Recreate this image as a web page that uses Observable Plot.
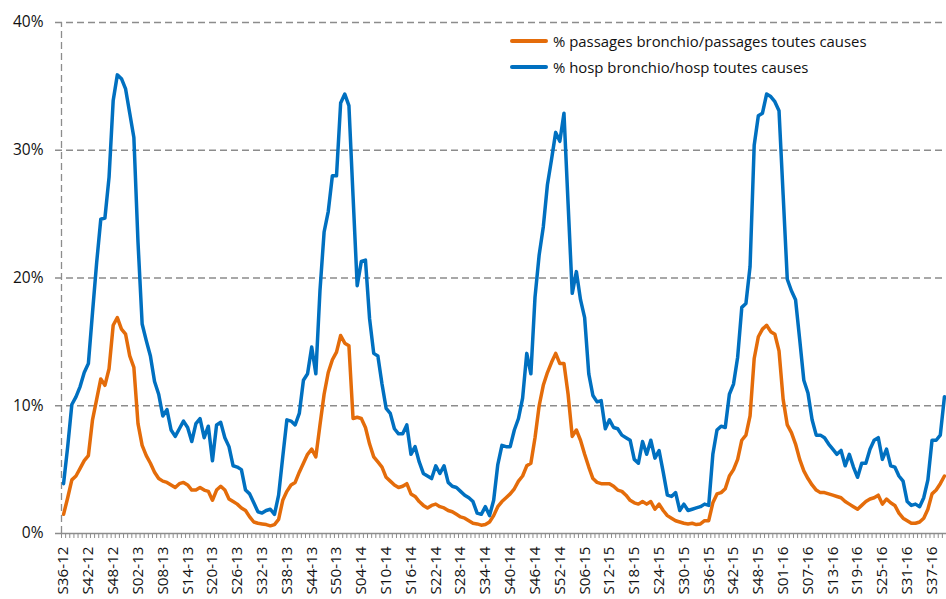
<!DOCTYPE html>
<html>
<head>
<meta charset="utf-8">
<script src="https://cdn.jsdelivr.net/npm/d3@7"></script>
<script src="https://cdn.jsdelivr.net/npm/@observablehq/plot@0.6"></script>
<style>
  html, body { margin: 0; padding: 0; background: #fff; }
  #wrap { position: relative; width: 946px; height: 599px; overflow: hidden; font-family: "Open Sans", sans-serif; }
  #legend { position: absolute; left: 510px; top: 28px; font-size: 14.9px; color: #111; }
  #legend .row { display: flex; align-items: center; height: 26px; white-space: nowrap; }
  #legend .sw { width: 38px; height: 3.5px; margin-right: 5px; border-radius: 2px; }
</style>
</head>
<body>
<div id="wrap">
  <div id="legend"></div>
</div>
<script>
// Weekly periods: S36-12 ... S40-16
const yearSpans = [["12", 36, 52], ["13", 1, 52], ["14", 1, 52], ["15", 1, 53], ["16", 1, 40]];
const weeks = yearSpans.flatMap(([yy, a, b]) => d3.range(a, b + 1).map(w => "S" + String(w).padStart(2, "0") + "-" + yy));

const tickLabels = ["S36-12","S42-12","S48-12","S02-13","S08-13","S14-13","S20-13","S26-13","S32-13","S38-13",
  "S44-13","S50-13","S04-14","S10-14","S16-14","S22-14","S28-14","S34-14","S40-14","S46-14","S52-14",
  "S06-15","S12-15","S18-15","S24-15","S30-15","S36-15","S42-15","S48-15","S01-16","S07-16","S13-16",
  "S19-16","S25-16","S31-16","S37-16"];

const yTicks = [0, 10, 20, 30, 40];

const seriesNames = ["% passages bronchio/passages toutes causes", "% hosp bronchio/hosp toutes causes"];
const seriesColors = ["#E46C0A", "#0070C0"];

// % passages bronchio / passages toutes causes
const passages = [
  1.5, 2.8, 4.2, 4.5, 5.1, 5.7, 6.1, 8.9, 10.5, 12.1, 11.6, 12.9, 16.3, 16.9, 16.0, 15.6, 13.9, 13.0, 8.6, 6.9,
  6.1, 5.5, 4.8, 4.3, 4.1, 4.0, 3.8, 3.6, 3.9, 4.0, 3.8, 3.4, 3.4, 3.6, 3.4, 3.3, 2.6, 3.4, 3.7, 3.4,
  2.7, 2.5, 2.3, 2.0, 1.8, 1.3, 0.9, 0.8, 0.75, 0.7, 0.6, 0.7, 1.1, 2.6, 3.3, 3.8, 4.0, 4.8, 5.5, 6.2,
  6.6, 6.0, 8.5, 10.9, 12.6, 13.6, 14.2, 15.5, 14.9, 14.7, 9.0, 9.1, 9.0, 8.3, 7.0, 6.0, 5.6, 5.2, 4.4, 4.1,
  3.8, 3.6, 3.7, 3.9, 3.1, 2.9, 2.5, 2.2, 2.0, 2.2, 2.3, 2.1, 2.0, 1.8, 1.7, 1.5, 1.3, 1.2, 1.0, 0.8,
  0.75, 0.65, 0.7, 0.9, 1.4, 2.1, 2.5, 2.8, 3.1, 3.5, 4.1, 4.5, 5.3, 5.5, 7.5, 10.0, 11.6, 12.6, 13.4, 14.1,
  13.3, 13.3, 10.9, 7.6, 8.1, 7.3, 6.2, 5.2, 4.3, 4.0, 3.9, 3.9, 3.9, 3.7, 3.4, 3.3, 3.0, 2.6, 2.4, 2.3,
  2.5, 2.3, 2.5, 1.9, 2.3, 1.8, 1.4, 1.2, 1.0, 0.9, 0.8, 0.75, 0.8, 0.7, 0.75, 1.0, 1.0, 2.4, 3.1, 3.2,
  3.5, 4.5, 5.0, 5.8, 7.3, 7.7, 9.2, 13.7, 15.4, 16.0, 16.3, 15.8, 15.6, 14.3, 10.5, 8.5, 7.9, 7.0, 5.8, 4.9,
  4.3, 3.8, 3.4, 3.2, 3.2, 3.1, 3.0, 2.9, 2.8, 2.5, 2.3, 2.1, 1.9, 2.2, 2.5, 2.7, 2.8, 3.0, 2.3, 2.7,
  2.4, 2.2, 1.6, 1.2, 1.0, 0.8, 0.8, 0.9, 1.2, 1.9, 3.1, 3.4, 3.9, 4.5
];

// % hosp bronchio / hosp toutes causes
const hosp = [
  3.9, 6.8, 10.1, 10.7, 11.5, 12.6, 13.3, 17.3, 21.2, 24.6, 24.7, 27.9, 33.9, 35.9, 35.6, 34.8, 32.9, 31.0, 22.8, 16.4,
  15.1, 13.9, 11.9, 10.9, 9.2, 9.7, 8.1, 7.6, 8.2, 8.8, 8.3, 7.2, 8.6, 9.0, 7.5, 8.4, 5.7, 8.5, 8.7, 7.5,
  6.8, 5.3, 5.2, 5.0, 3.4, 3.1, 2.4, 1.7, 1.6, 1.8, 1.9, 1.5, 3.0, 6.0, 8.9, 8.8, 8.5, 9.4, 12.0, 12.5,
  14.6, 12.5, 19.0, 23.6, 25.2, 28.0, 28.0, 33.7, 34.4, 33.5, 26.4, 19.4, 21.3, 21.4, 16.8, 14.1, 13.9, 11.7, 9.8, 9.4,
  8.2, 7.8, 7.8, 8.5, 6.2, 6.8, 5.6, 4.7, 4.5, 4.3, 5.3, 4.7, 5.3, 4.0, 3.7, 3.6, 3.3, 3.0, 2.8, 2.5,
  1.6, 1.5, 2.1, 1.4, 2.6, 5.4, 6.9, 6.8, 6.8, 8.1, 9.0, 10.6, 14.1, 12.5, 18.5, 21.8, 24.0, 27.3, 29.3, 31.4,
  30.7, 32.9, 25.8, 18.8, 20.5, 18.3, 16.9, 12.5, 10.8, 10.3, 10.4, 8.2, 8.9, 8.3, 8.2, 7.7, 7.5, 7.3, 5.8, 5.5,
  7.2, 6.2, 7.3, 5.9, 6.5, 4.8, 3.0, 2.9, 3.2, 1.8, 2.3, 1.8, 1.9, 2.0, 2.1, 2.3, 2.2, 6.2, 8.1, 8.4,
  8.3, 10.9, 11.7, 13.8, 17.7, 18.0, 20.9, 30.4, 32.7, 32.9, 34.4, 34.2, 33.8, 33.1, 26.5, 19.9, 19.0, 18.3, 15.2, 12.0,
  11.0, 8.9, 7.7, 7.7, 7.5, 7.0, 6.6, 6.2, 6.5, 5.3, 6.2, 5.2, 4.4, 5.5, 5.5, 6.6, 7.3, 7.5, 5.8, 6.6,
  5.3, 5.2, 4.5, 4.1, 2.5, 2.2, 2.3, 2.1, 2.8, 4.2, 7.3, 7.3, 7.7, 10.7
];

const n = weeks.length;
const rows = weeks.map((w, i) => ({i, week: w, passages: passages[i], hosp: hosp[i]}));
const labelIdx = tickLabels.map(t => weeks.indexOf(t));
const boundaries = d3.range(n + 1).map(k => k - 0.5);

const gridColor = "#8c8c8c";
const dash = "7,4";

const chart = Plot.plot({
  width: 946,
  height: 599,
  marginLeft: 55,
  marginRight: 0,
  marginTop: 22,
  marginBottom: 66,
  style: {fontFamily: "'Open Sans', sans-serif", color: "#111", background: "transparent"},
  x: {type: "linear", domain: [-0.5, n - 0.5], range: [61, 946], axis: null},
  y: {domain: [0, 40], axis: null},
  marks: [
    Plot.ruleY(yTicks.filter(d => d > 0), {stroke: gridColor, strokeWidth: 1.3, strokeDasharray: dash}),
    Plot.ruleX([-0.5], {y1: 0, y2: 40, stroke: gridColor, strokeWidth: 1.3, strokeDasharray: dash}),
    Plot.ruleY([0], {stroke: gridColor, strokeWidth: 1.3}),
    Plot.axisX(boundaries, {tickSize: 5, tickFormat: () => "", stroke: gridColor, strokeWidth: 1, label: null}),
    Plot.axisX(labelIdx, {tickSize: 0, tickPadding: 13, tickRotate: -90, tickFormat: i => weeks[i], fontSize: 15.2, label: null, fill: "#111"}),
    Plot.axisY(yTicks, {tickSize: 0, tickPadding: 12, tickFormat: d => d + "%", fontSize: 15.5, label: null, fill: "#111"}),
    Plot.lineY(rows, {x: "i", y: "passages", stroke: seriesColors[0], strokeWidth: 3.5, strokeLinejoin: "round", strokeLinecap: "round"}),
    Plot.lineY(rows, {x: "i", y: "hosp", stroke: seriesColors[1], strokeWidth: 3.5, strokeLinejoin: "round", strokeLinecap: "round"})
  ]
});

const wrap = document.getElementById("wrap");
wrap.insertBefore(chart, wrap.firstChild);

const legend = document.getElementById("legend");
seriesNames.forEach((name, k) => {
  const row = document.createElement("div");
  row.className = "row";
  const sw = document.createElement("div");
  sw.className = "sw";
  sw.style.background = seriesColors[k];
  const tx = document.createElement("span");
  tx.textContent = name;
  row.appendChild(sw);
  row.appendChild(tx);
  legend.appendChild(row);
});
</script>
</body>
</html>
